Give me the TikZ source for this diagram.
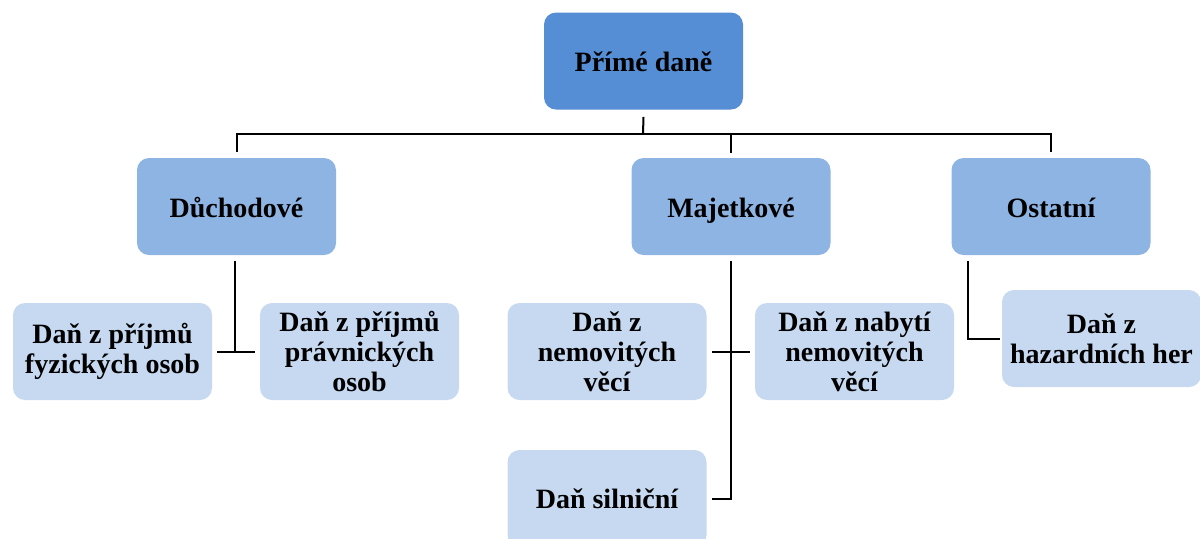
\documentclass[tikz,border=0pt]{standalone}
\usepackage{fontspec}
\setmainfont{Liberation Serif}
\usepackage{xcolor}
\usetikzlibrary{backgrounds,calc,positioning}

\definecolor{topblue}{HTML}{558ED5}
\definecolor{midblue}{HTML}{8EB4E3}
\definecolor{lowblue}{HTML}{C6D9F1}

\begin{document}
\begin{tikzpicture}[x=0.5pt,y=-0.5pt]
  \tikzstyle{box}=[rounded corners=6pt,minimum width=99.5pt,minimum height=48.5pt,
    inner sep=0pt,align=center,font=\fontsize{14}{15}\selectfont\bfseries]
  \tikzstyle{root}=[box,fill=topblue,text height=12pt,text depth=2pt]
  \tikzstyle{group}=[box,fill=midblue,text height=13pt,text depth=2pt]
  \tikzstyle{leaf}=[box,fill=lowblue]
  \tikzstyle{conn}=[line width=1pt,black]
  \useasboundingbox (0,0) rectangle (1200,538);
  \node[root] (prime) at (643.5,61) {Přímé daně};
  \node[group] (duch) at (236.5,206.5) {Důchodové};
  \node[group] (maj) at (731,206.5) {Majetkové};
  \node[group] (ost) at (1051,206.5) {Ostatní};
  \node[leaf] (fyz) at (112.5,351.5) {Daň z příjmů\\fyzických osob};
  \node[leaf] (prav) at (359.5,351.5) {Daň z příjmů\\právnických\\osob};
  \node[leaf] (nem) at (607,351.5) {Daň z\\nemovitých\\věcí};
  \node[leaf] (nab) at (854.5,351.5) {Daň z nabytí\\nemovitých\\věcí};
  \node[leaf] (siln) at (607,498.5) {Daň silniční};
  \node[leaf] (haz) at (1101.5,338.5) {Daň z\\hazardních her};
  \coordinate (bus) at (643,134);
  \draw[conn] ([yshift=-3.5pt]prime.south) -- (bus);
  \draw[conn] ([yshift=3pt]duch.north) |- (ost.north |- bus) -- ([yshift=3pt]ost.north);
  \draw[conn] (bus) -| ([yshift=2.5pt]maj.north);
  \draw[conn] ([xshift=-0.75pt,yshift=-3pt]duch.south) -- ([xshift=-0.75pt]duch.south |- fyz.east);
  \draw[conn] ([xshift=2.5pt]fyz.east) -- ([xshift=-2.5pt]prav.west);
  \draw[conn] ([yshift=-3pt]maj.south) |- ([xshift=2.5pt]siln.east);
  \draw[conn] ([xshift=2.5pt]nem.east) -- ([xshift=-2.5pt]nab.west);
  \draw[conn] ([xshift=8.5pt,yshift=-3pt]ost.south west) |- ([xshift=-1pt]haz.west);
\end{tikzpicture}
\end{document}
